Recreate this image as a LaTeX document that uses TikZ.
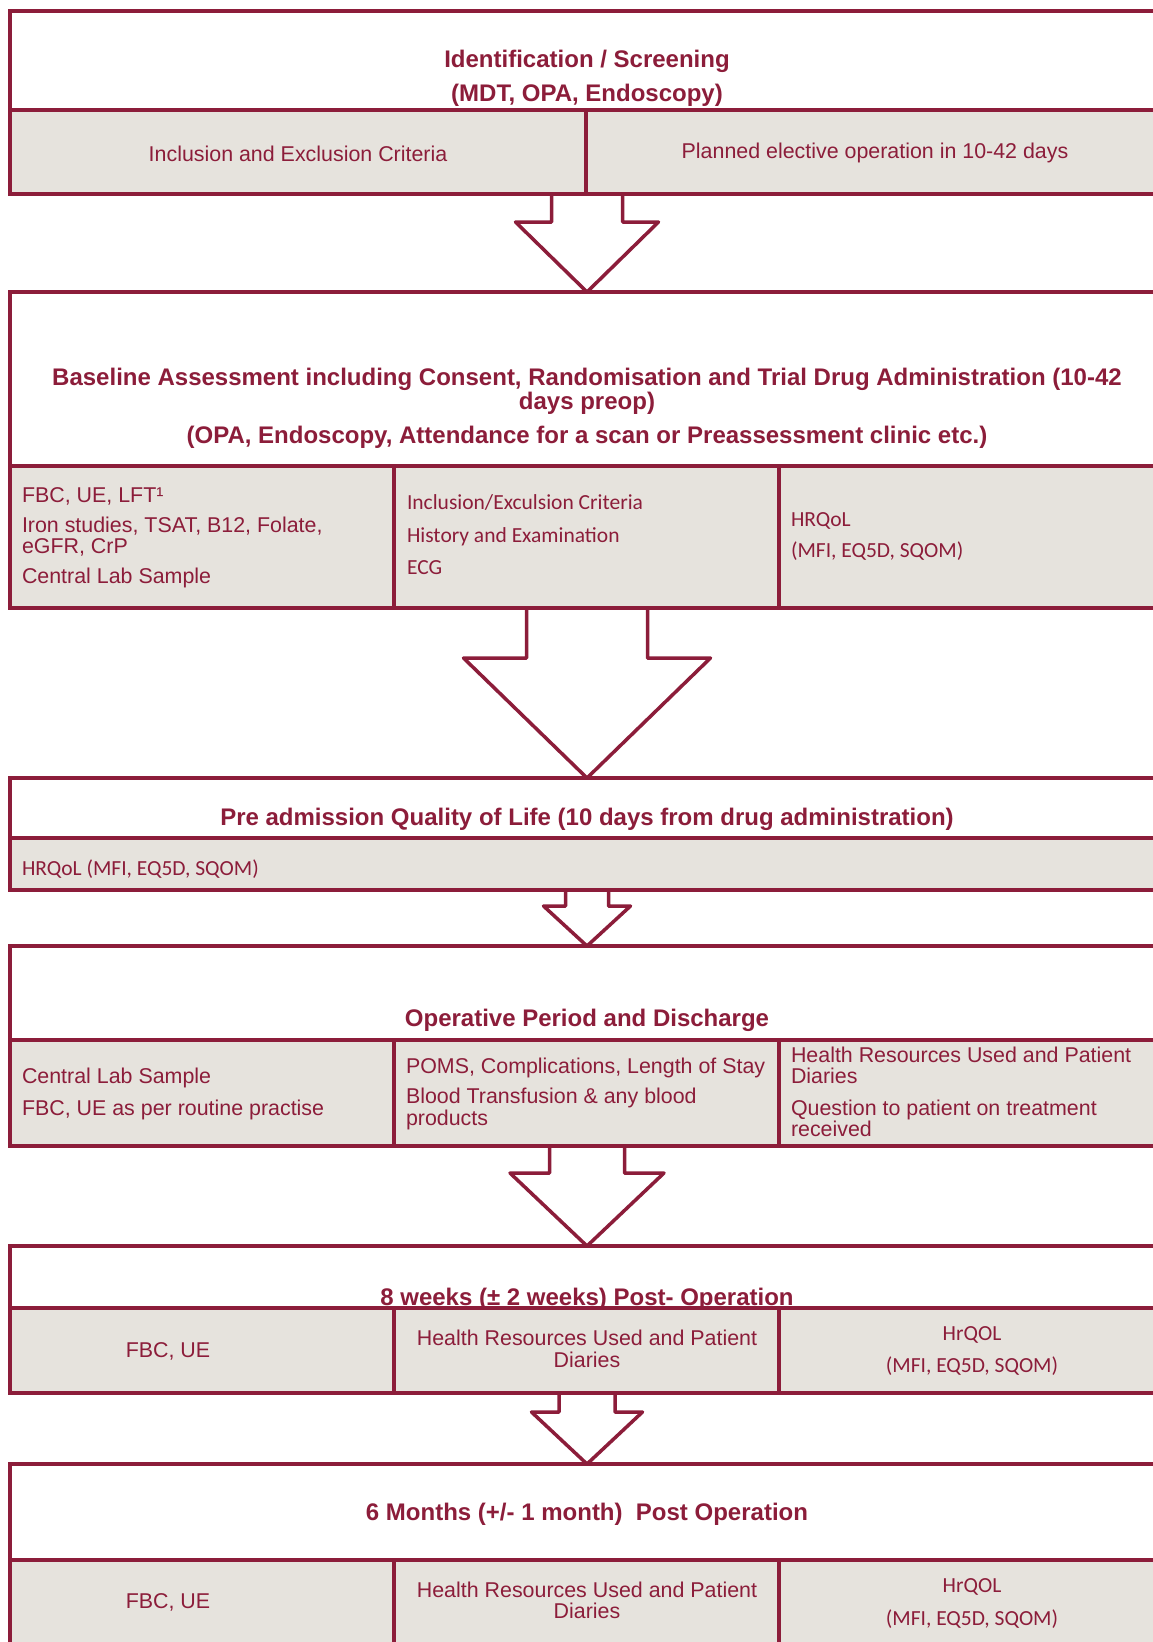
\documentclass[tikz,border=0pt]{standalone}
\usepackage{fontspec}
\setmainfont{Liberation Sans}
\newfontfamily\calfont{Carlito}
\usetikzlibrary{calc}
\definecolor{dmaroon}{RGB}{140,29,58}
\definecolor{cellgrey}{RGB}{230,227,221}
\newcommand\blkarrow[5]{%
  \draw[arr] ($(#1.south)+(-#3,0)$) -- ($(#1.south)+(-#3,#5)$) -- ($(#1.south)+(-#4,#5)$)
    -- (#2.north) -- ($(#1.south)+(#4,#5)$) -- ($(#1.south)+(#3,#5)$) -- ($(#1.south)+(#3,0)$);}
\begin{document}
\begin{tikzpicture}[x=1pt,y=-1pt,line width=4pt,
  blk/.style={draw=dmaroon, fill=white, rectangle, inner sep=0pt, outer sep=0pt, minimum width=1154pt},
  cellbox/.style={draw=dmaroon, fill=cellgrey, rectangle, inner sep=0pt, outer sep=0pt},
  ttl/.style={font=\fontsize{24}{28}\selectfont\bfseries, text=dmaroon, anchor=base, inner sep=0pt},
  txt/.style={font=\fontsize{21.4}{24}\selectfont, text=dmaroon, anchor=base west, inner sep=0pt},
  ctxt/.style={txt, anchor=base},
  caltxt/.style={txt, font=\fontsize{21.5}{24}\selectfont\calfont},
  ccaltxt/.style={caltxt, anchor=base},
  arr/.style={draw=dmaroon, line width=3.5pt, line join=round}
]
\useasboundingbox (0,0) rectangle (1153,1642);
\clip (0,0) rectangle (1153,1642);

% blocks
\node[blk, minimum height=183pt] (b1) at (587,102.5) {};
\node[blk, minimum height=316pt] (b2) at (587,450) {};
\node[blk, minimum height=112pt] (b3) at (587,834) {};
\node[blk, minimum height=200pt] (b4) at (587,1046) {};
\node[blk, minimum height=147pt] (b5) at (587,1319.5) {};
\node[blk, minimum height=256pt] (b6) at (587,1592) {};

% titles
\node[ttl] (t1a) at (587,67) {Identification / Screening};
\node[ttl] (t1b) at (587,101) {(MDT, OPA, Endoscopy)};
\node[ttl] (t2a) at (587,385) {Baseline Assessment including Consent, Randomisation and Trial Drug Administration (10-42};
\node[ttl] (t2b) at (587,409) {days preop)};
\node[ttl] (t2c) at (587,443) {(OPA, Endoscopy, Attendance for a scan or Preassessment clinic etc.)};
\node[ttl] (t3) at (587,825) {Pre admission Quality of Life (10 days from drug administration)};
\node[ttl] (t4) at (587,1026) {Operative Period and Discharge};
\node[ttl] (t5) at (587,1305) {8 weeks (± 2 weeks) Post- Operation};
\node[ttl] (t6) at (587,1520) {6 Months (+/- 1 month)\ \ Post Operation};

% cells
\node[cellbox, minimum width=576pt, minimum height=84pt] (c11) at (298,152) {};
\node[cellbox, minimum width=578pt, minimum height=84pt] (c12) at (875,152) {};

\node[cellbox, minimum width=384pt, minimum height=142pt] (c21) at (202,537) {};
\node[cellbox, minimum width=385pt, minimum height=142pt] (c22) at (586.5,537) {};
\node[cellbox, minimum width=385pt, minimum height=142pt] (c23) at (971.5,537) {};

\node[cellbox, minimum width=1154pt, minimum height=52pt] (c31) at (587,864) {};

\node[cellbox, minimum width=384pt, minimum height=106pt] (c41) at (202,1093) {};
\node[cellbox, minimum width=385pt, minimum height=106pt] (c42) at (586.5,1093) {};
\node[cellbox, minimum width=385pt, minimum height=106pt] (c43) at (971.5,1093) {};

\node[cellbox, minimum width=384pt, minimum height=85pt] (c51) at (202,1350.5) {};
\node[cellbox, minimum width=385pt, minimum height=85pt] (c52) at (586.5,1350.5) {};
\node[cellbox, minimum width=385pt, minimum height=85pt] (c53) at (971.5,1350.5) {};

\node[cellbox, minimum width=384pt, minimum height=160pt] (c61) at (202,1640) {};
\node[cellbox, minimum width=385pt, minimum height=160pt] (c62) at (586.5,1640) {};
\node[cellbox, minimum width=385pt, minimum height=160pt] (c63) at (971.5,1640) {};

% cell texts
\node[ctxt] (x11) at (298,161) {Inclusion and Exclusion Criteria};
\node[ctxt] (x12) at (875,158) {Planned elective operation in 10-42 days};

\node[txt] (x21a) at (20,502) {FBC, UE, LFT¹};
\node[txt] (x21b) at (20,532) {Iron studies, TSAT, B12, Folate,};
\node[txt] (x21c) at (20,553) {eGFR, CrP};
\node[txt] (x21d) at (20,583) {Central Lab Sample};
\node[caltxt] (x22a) at (405,509) {Inclusion/Exculsion Criteria};
\node[caltxt] (x22b) at (405,542) {History and Examination};
\node[caltxt] (x22c) at (405,574) {ECG};
\node[caltxt] (x23a) at (789,526) {HRQoL};
\node[caltxt] (x23b) at (789,557) {(MFI, EQ5D, SQOM)};

\node[caltxt] (x31) at (20,875) {HRQoL (MFI, EQ5D, SQOM)};

\node[txt] (x41a) at (20,1083) {Central Lab Sample};
\node[txt] (x41b) at (20,1115) {FBC, UE as per routine practise};
\node[txt] (x42a) at (404,1073) {POMS, Complications, Length of Stay};
\node[txt] (x42b) at (404,1103) {Blood Transfusion \& any blood};
\node[txt] (x42c) at (404,1125) {products};
\node[txt] (x43a) at (789,1062) {Health Resources Used and Patient};
\node[txt] (x43b) at (789,1083) {Diaries};
\node[txt] (x43c) at (789,1115) {Question to patient on treatment};
\node[txt] (x43d) at (789,1136) {received};

\node[ctxt] (x51) at (168,1357) {FBC, UE};
\node[ctxt] (x52a) at (587,1345) {Health Resources Used and Patient};
\node[ctxt] (x52b) at (587,1367) {Diaries};
\node[ccaltxt] (x53a) at (972,1340) {HrQOL};
\node[ccaltxt] (x53b) at (972,1372) {(MFI, EQ5D, SQOM)};

\node[ctxt] (x61) at (168,1608) {FBC, UE};
\node[ctxt] (x62a) at (587,1597) {Health Resources Used and Patient};
\node[ctxt] (x62b) at (587,1618) {Diaries};
\node[ccaltxt] (x63a) at (972,1592) {HrQOL};
\node[ccaltxt] (x63b) at (972,1625) {(MFI, EQ5D, SQOM)};

% block arrows
\blkarrow{b1}{b2}{35.5}{71.5}{28}
\blkarrow{b2}{b3}{60.5}{123.5}{50}
\blkarrow{b3}{b4}{21.5}{43.5}{16}
\blkarrow{b4}{b5}{37.5}{77}{27}
\blkarrow{b5}{b6}{28}{55.5}{19}
\end{tikzpicture}
\end{document}
